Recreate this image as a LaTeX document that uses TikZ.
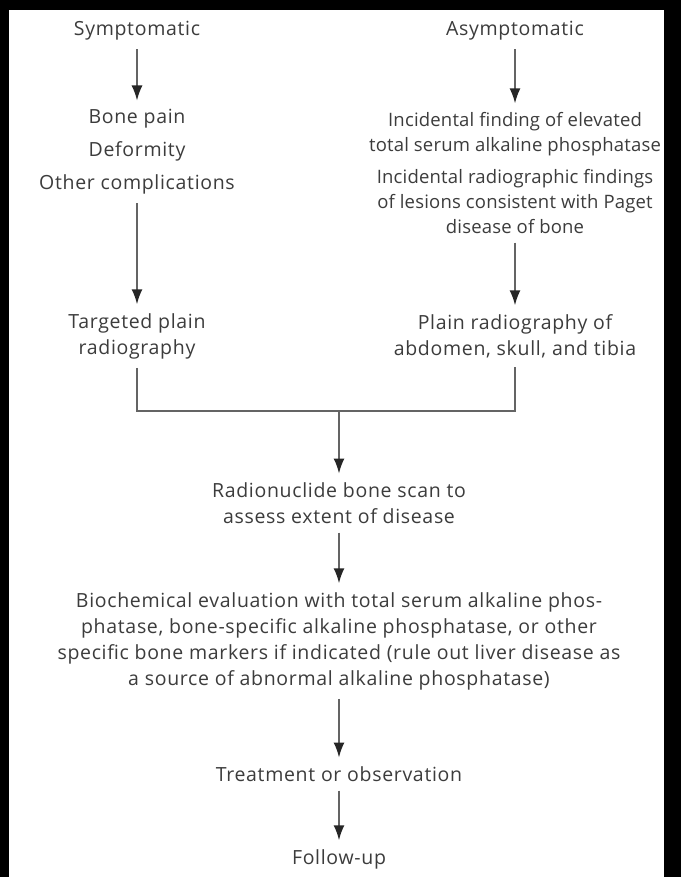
\documentclass[tikz,border=0pt]{standalone}
\usepackage{fontspec}
\setmainfont[LetterSpace=3.5]{Open Sans}
\usepackage{xcolor}
\usetikzlibrary{arrows.meta, math}
\definecolor{mytext}{RGB}{60, 60, 60}
\definecolor{myline}{RGB}{100, 100, 100}

\tikzset{
  lbl/.style={inner sep=0pt, outer sep=9pt, align=center, text=mytext,
    font=\fontsize{19.5}{26}\selectfont},
  flow/.style={-{Latex[length=15pt,width=11pt,color=black!85]}, line width=1.6pt,
    draw=myline},
  mergeline/.style={line width=1.6pt, draw=myline},
}

\begin{document}
\begin{tikzpicture}[x=1pt,y=-1pt]
\tikzmath{
\xl=137;
\xr=515;
\xm=339;
}
% frame
\fill[black] (0,0) rectangle (681,877);
\fill[white] (9,10) rectangle (664,877);
\useasboundingbox (0,0) rectangle (681,877);

% left branch
\node[lbl] (sympt) at (\xl,31) {Symptomatic};
\node[lbl, font=\fontsize{19.5}{33}\selectfont] (signs) at (\xl,152)
  {Bone pain\\Deformity\\Other complications};
\node[lbl] (filml) at (\xl,336) {Targeted plain\\radiography};

% right branch
\node[lbl] (asympt) at (\xr,31) {Asymptomatic};
\node[lbl, font=\fontsize{18.5}{25}\selectfont\addfontfeature{LetterSpace=1}] (find) at (\xr,173)
  {Incidental finding of elevated\\total serum alkaline phosphatase\\[7pt]
   Incidental radiographic findings\\of lesions consistent with Paget\\disease of bone};
\node[lbl] (filmr) at (\xr,336) {Plain radiography of\\abdomen, skull, and tibia};

% common path
\node[lbl] (scan) at (\xm,503) {Radionuclide bone scan to\\assess extent of disease};
\node[lbl] (bio) at (\xm,641)
  {Biochemical evaluation with total serum alkaline phos-\\
   phatase, bone-specific alkaline phosphatase, or other\\
   specific bone markers if indicated (rule out liver disease as\\
   a source of abnormal alkaline phosphatase)};
\node[lbl] (treat) at (\xm,774) {Treatment or observation};
\node[lbl] (follow) at (\xm,859) {Follow-up};

\coordinate (merge) at (\xm,411);

\draw[flow] (sympt) -- (signs);
\draw[flow] (asympt) -- (find);
\draw[flow] (signs) -- (filml);
\draw[flow] (find) -- (filmr);
\draw[mergeline] (filml.south) |- (merge) -| (filmr.south);
\draw[flow] (merge) -- (scan);
\draw[flow] (scan) -- (bio);
\draw[flow] (bio) -- (treat);
\draw[flow] (treat) -- (follow);
\end{tikzpicture}
\end{document}
